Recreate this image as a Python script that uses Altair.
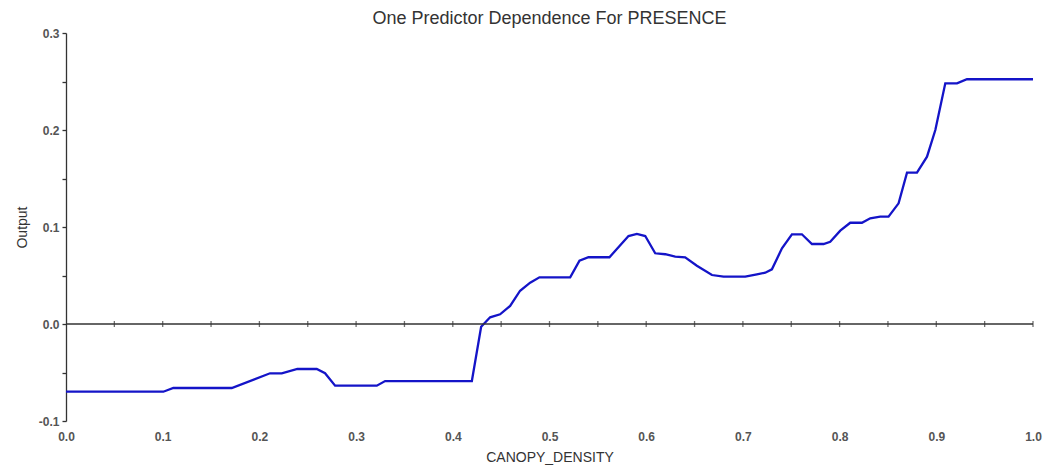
import altair as alt
import pandas as pd

# Partial dependence curve
density = [0.0, 0.1007, 0.111, 0.1714, 0.211, 0.2231, 0.2393, 0.2593, 0.2679, 0.2783,
           0.3214, 0.33, 0.4197, 0.4293, 0.4386, 0.4489, 0.4593, 0.4696, 0.48, 0.4896,
           0.5214, 0.531, 0.5403, 0.562, 0.5817, 0.5904, 0.599, 0.6093, 0.6197, 0.63,
           0.6403, 0.6524, 0.668, 0.68, 0.7024, 0.7145, 0.7231, 0.73, 0.7404, 0.7507,
           0.761, 0.7714, 0.7834, 0.7903, 0.8007, 0.811, 0.8231, 0.8317, 0.842, 0.8506,
           0.861, 0.8697, 0.88, 0.8904, 0.899, 0.9093, 0.9214, 0.9317, 1.0]
output = [-0.0698, -0.0698, -0.066, -0.066, -0.0508, -0.0508, -0.0464, -0.0464, -0.0508, -0.0636,
          -0.0636, -0.0588, -0.0588, -0.0028, 0.0069, 0.010, 0.0186, 0.0343, 0.0426, 0.0481,
          0.0481, 0.0653, 0.0688, 0.0688, 0.0907, 0.0928, 0.0907, 0.0729, 0.0719, 0.0694,
          0.0688, 0.0601, 0.0505, 0.0488, 0.0488, 0.0512, 0.0529, 0.0564, 0.078, 0.0925,
          0.0925, 0.0825, 0.0825, 0.0848, 0.0962, 0.1044, 0.1044, 0.109, 0.1106, 0.1106,
          0.1244, 0.156, 0.156, 0.1725, 0.2, 0.2481, 0.2481, 0.2523, 0.2523]

x_labels = [0.0, 0.1, 0.2, 0.3, 0.4, 0.5, 0.6, 0.7, 0.8, 0.9, 1.0]
x_minor = [0.05, 0.1, 0.15, 0.2, 0.25, 0.3, 0.35, 0.4, 0.45, 0.5,
           0.55, 0.6, 0.65, 0.7, 0.75, 0.8, 0.85, 0.9, 0.95, 1.0]
y_ticks = [-0.1, -0.05, 0.0, 0.05, 0.1, 0.15, 0.2, 0.25, 0.3]

df = pd.DataFrame({"CANOPY_DENSITY": density, "Output": output})
tick_df = pd.DataFrame({"CANOPY_DENSITY": x_minor, "Output": [0.0] * len(x_minor)})
zero_df = pd.DataFrame({"CANOPY_DENSITY": [0.0], "end": [1.0], "Output": [0.0]})

FONT = "Liberation Sans"
x_scale = alt.Scale(domain=[0, 1], nice=False, zero=False)
y_scale = alt.Scale(domain=[-0.1, 0.3], nice=False, zero=False)

x_axis = alt.Axis(values=x_labels, format=".1f", domain=False, ticks=False,
                  grid=False, labelPadding=10, title="CANOPY_DENSITY",
                  titlePadding=8, labelFlush=False)
y_axis = alt.Axis(values=y_ticks,
                  labelExpr=("abs(datum.value*10 - round(datum.value*10)) < 0.001 ? "
                             "(datum.value < -0.001 ? '-' + format(-datum.value, '.1f') "
                             ": format(abs(datum.value), '.1f')) : ''"),
                  domain=True, ticks=True, tickSize=4, grid=False,
                  labelPadding=3, title="Output", titlePadding=9,
                  titleFontSize=14, labelFlush=False)

line = alt.Chart(df).mark_line(color="#1414C8", strokeWidth=2.3).encode(
    x=alt.X("CANOPY_DENSITY:Q", scale=x_scale, axis=x_axis),
    y=alt.Y("Output:Q", scale=y_scale, axis=y_axis),
)

zero_rule = alt.Chart(zero_df).mark_rule(color="#333333", strokeWidth=1.3).encode(
    x=alt.X("CANOPY_DENSITY:Q", scale=x_scale, axis=x_axis),
    x2="end:Q",
    y=alt.Y("Output:Q", scale=y_scale, axis=y_axis),
)

zero_ticks = alt.Chart(tick_df).mark_tick(color="#333333", thickness=1.3, size=6,
                                          orient="vertical").encode(
    x=alt.X("CANOPY_DENSITY:Q", scale=x_scale, axis=x_axis),
    y=alt.Y("Output:Q", scale=y_scale, axis=y_axis),
)

chart = alt.layer(line, zero_rule, zero_ticks).properties(
    width=967, height=388,
    autosize=alt.AutoSizeParams(type="none"),
    padding={"left": 58, "top": 25, "right": 13, "bottom": 44},
    title=alt.TitleParams("One Predictor Dependence For PRESENCE", font=FONT, fontSize=18,
                          fontWeight="normal", color="#333333", offset=-1, anchor="middle"),
).configure_view(stroke=None).configure_axis(
    labelFont=FONT, labelFontSize=12, labelFontWeight="bold", labelColor="#555555",
    titleFont=FONT, titleFontSize=14, titleFontWeight="normal", titleColor="#333333",
    domainColor="#333333", domainWidth=1.3, tickColor="#333333", tickWidth=1.3,
)

chart.save("out.html", embed_options={"renderer": "svg", "actions": False})
